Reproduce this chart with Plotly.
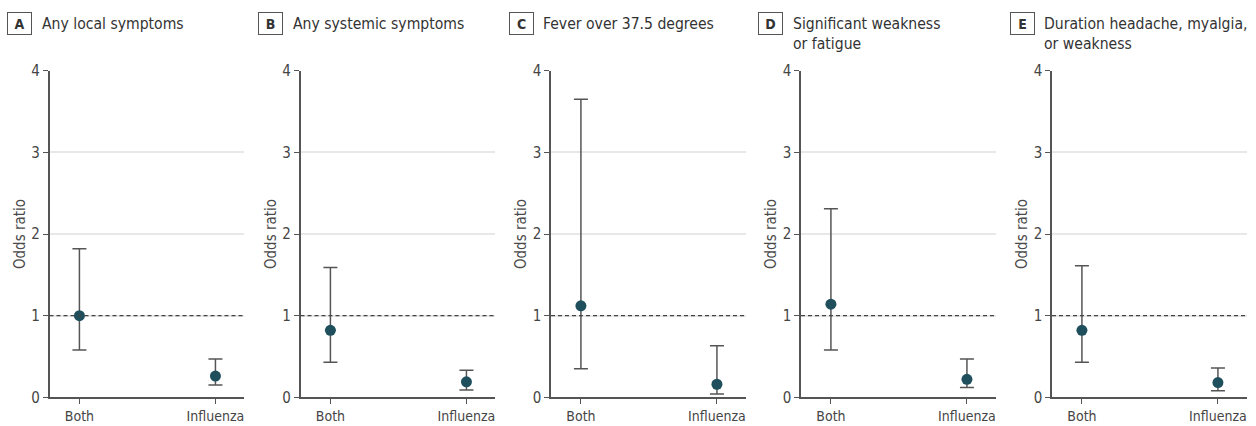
import plotly.graph_objects as go

# ---- data ----
panel_letters = ["A", "B", "C", "D", "E"]
panel_titles = [
    "Any local symptoms",
    "Any systemic symptoms",
    "Fever over 37.5 degrees",
    "Significant weakness<br>or fatigue",
    "Duration headache, myalgia,<br>or weakness",
]
groups = ["Both", "Influenza"]
odds_ratio = [
    [1.00, 0.26],
    [0.82, 0.19],
    [1.12, 0.16],
    [1.14, 0.22],
    [0.82, 0.18],
]
ci_lower = [
    [0.58, 0.15],
    [0.43, 0.09],
    [0.35, 0.04],
    [0.58, 0.12],
    [0.43, 0.08],
]
ci_upper = [
    [1.82, 0.47],
    [1.59, 0.33],
    [3.65, 0.63],
    [2.31, 0.47],
    [1.61, 0.36],
]
y_ticks = [0, 1, 2, 3, 4]
y_title = "Odds ratio"
reference_value = 1

# ---- layout constants ----
W, H = 1256, 426
FONT = "DejaVu Sans Condensed, Liberation Sans Narrow, Roboto, sans-serif"
left_px = [49.5, 300.5, 551, 801, 1052]
width_px = 194.5
y_bottom_px, y_top_px = 397.3, 70.7
MARKER = "#1f4f5c"
AXIS = "#555555"
TEXT = "#454545"

fig = go.Figure()
layout = dict(
    width=W, height=H,
    margin=dict(l=0, r=0, t=0, b=0, autoexpand=False),
    paper_bgcolor="white", plot_bgcolor="white",
    showlegend=False,
    font=dict(family=FONT, color=TEXT),
)
annotations = []
shapes = []

for i in range(5):
    n = "" if i == 0 else str(i + 1)
    xa, ya = "x" + n, "y" + n
    fig.add_trace(go.Scatter(
        x=[0, 1], y=odds_ratio[i],
        xaxis=xa, yaxis=ya,
        mode="markers",
        marker=dict(size=11, color=MARKER),
        error_y=dict(
            type="data", symmetric=False,
            array=[u - v for u, v in zip(ci_upper[i], odds_ratio[i])],
            arrayminus=[v - l for v, l in zip(odds_ratio[i], ci_lower[i])],
            color=AXIS, thickness=1.5, width=7,
        ),
        hoverinfo="skip",
    ))
    x0 = left_px[i] / W
    x1 = (left_px[i] + width_px) / W
    layout["xaxis" + n] = dict(
        domain=[x0, x1], anchor=ya,
        range=[-0.22, 1.21],
        tickvals=[0, 1], ticktext=groups,
        showgrid=False, zeroline=False,
        showline=True, linecolor=AXIS, linewidth=1.5,
        ticks="outside", ticklen=5, tickwidth=1.2, tickcolor=AXIS,
        tickfont=dict(size=14, color=TEXT, family=FONT),
        fixedrange=True, automargin=False,
    )
    layout["yaxis" + n] = dict(
        domain=[1 - y_bottom_px / H, 1 - y_top_px / H], anchor=xa,
        range=[0, 4],
        tickvals=y_ticks,
        showgrid=True, gridcolor="#e8e8e8", gridwidth=1.5,
        zeroline=False,
        showline=True, linecolor=AXIS, linewidth=1.5,
        ticks="outside", ticklen=5, tickwidth=1.2, tickcolor=AXIS,
        tickfont=dict(size=15, color=TEXT, family=FONT),
        title=dict(text=y_title, font=dict(size=15, color="#4a4a4a", family=FONT), standoff=2),
        fixedrange=True, automargin=False,
    )
    shapes.append(dict(
        type="line", xref=xa + " domain", yref=ya,
        x0=0, x1=1, y0=reference_value, y1=reference_value,
        line=dict(color="#444444", width=1.3, dash="4px,3px"),
    ))
    # letter box
    annotations.append(dict(
        xref="paper", yref="paper",
        x=(left_px[i] - 30) / W, y=1 - 23.5 / H,
        xanchor="center", yanchor="middle",
        text="<b>" + panel_letters[i] + "</b>", showarrow=False,
        font=dict(size=14, color="#333333", family=FONT),
        bordercolor="#555555", borderwidth=1, borderpad=0,
        width=23, height=21, bgcolor="white",
    ))
    annotations.append(dict(
        xref="paper", yref="paper",
        x=(left_px[i] - 10) / W, y=1 - 13 / H,
        xanchor="left", yanchor="top", align="left",
        text=panel_titles[i], showarrow=False,
        font=dict(size=15.6, color="#333333", family=FONT),
    ))

layout["annotations"] = annotations
layout["shapes"] = shapes
fig.update_layout(**layout)
fig.write_html(
    "out.html",
    config={"displayModeBar": False},
    post_script="document.body.style.margin='0';document.body.style.overflow='hidden';",
)
